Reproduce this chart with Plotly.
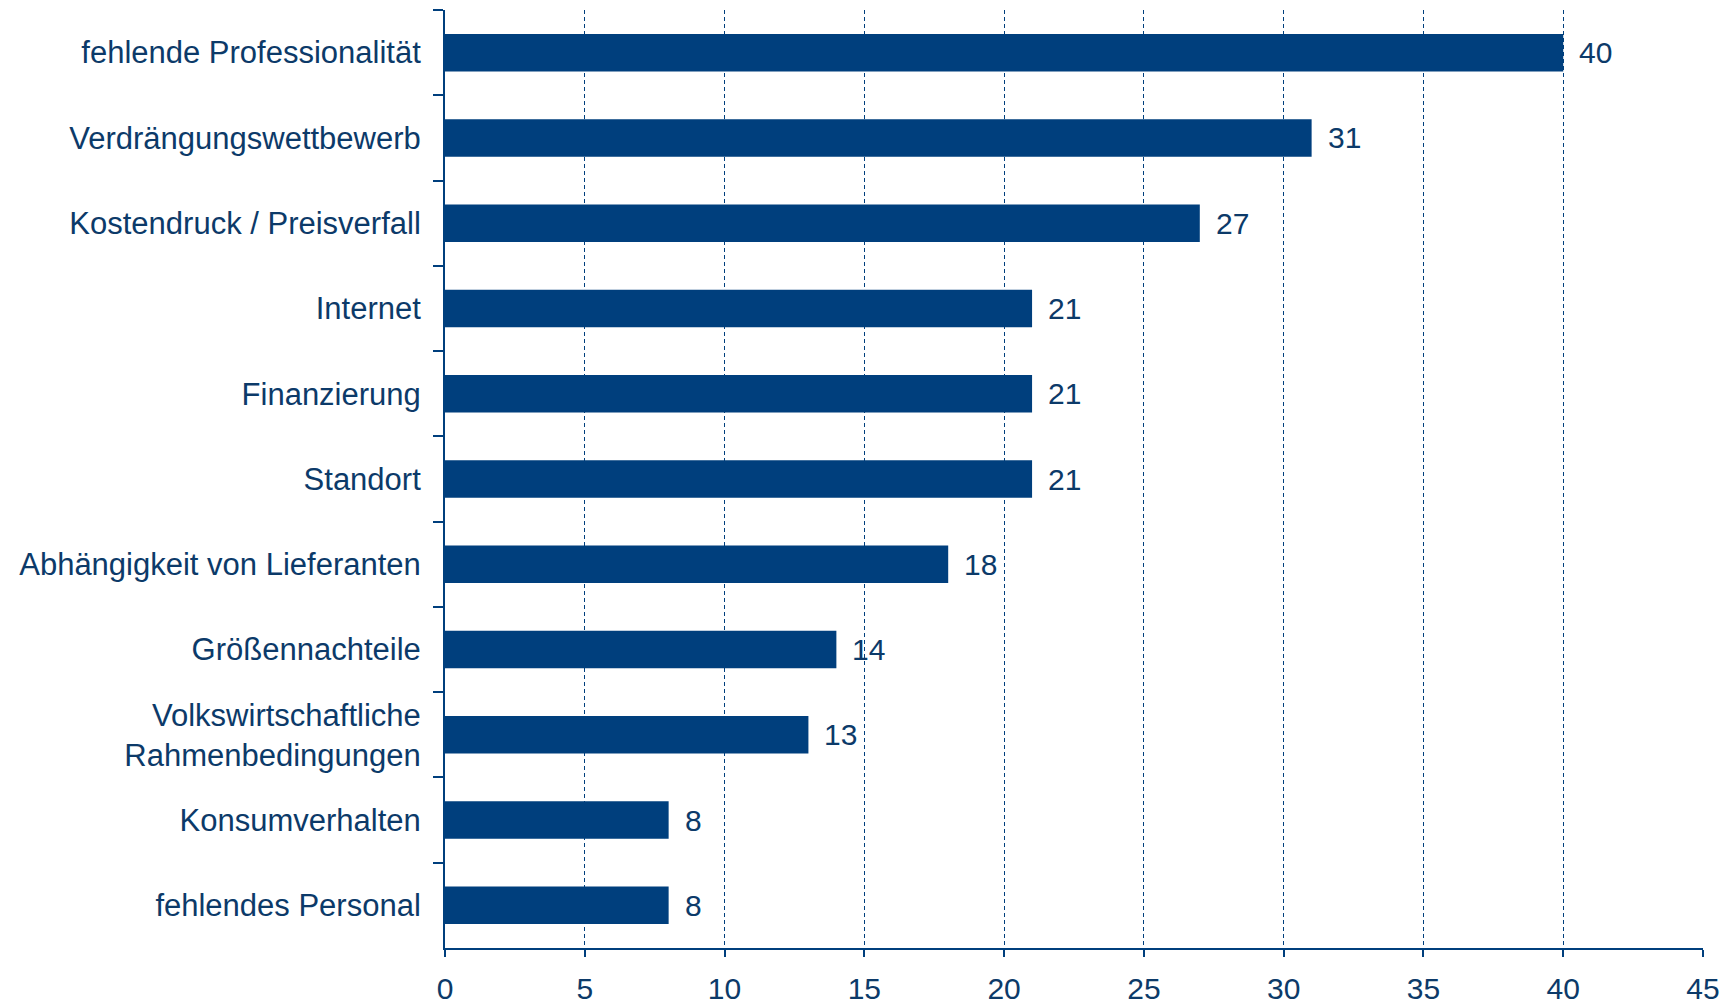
import plotly.graph_objects as go

categories = [
    "fehlende Professionalität",
    "Verdrängungswettbewerb",
    "Kostendruck / Preisverfall",
    "Internet",
    "Finanzierung",
    "Standort",
    "Abhängigkeit von Lieferanten",
    "Größennachteile",
    "Volkswirtschaftliche<br>Rahmenbedingungen",
    "Konsumverhalten",
    "fehlendes Personal",
]
values = [40, 31, 27, 21, 21, 21, 18, 14, 13, 8, 8]
x_ticks = [0, 5, 10, 15, 20, 25, 30, 35, 40, 45]

BAR = "#003f7d"
TXT = "#0c3a69"
FONT = "Liberation Sans, Arial, sans-serif"

# the page body adds an 8px offset, so the figure is sized to fit the window
fig = go.Figure()
fig.add_trace(go.Bar(
    x=values, y=categories, orientation="h",
    marker=dict(color=BAR, line=dict(width=0)),
    hoverinfo="skip",
))

for c, v in zip(categories, values):
    fig.add_annotation(x=v, y=c, text=str(v), showarrow=False,
                       xanchor="left", xshift=14, yshift=0,
                       font=dict(family=FONT, size=30, color=TXT))

fig.update_layout(
    width=1727, height=999,
    margin=dict(l=437, r=32, t=2, b=59, autoexpand=False),
    paper_bgcolor="white", plot_bgcolor="white",
    bargap=0.56,
    showlegend=False,
    font=dict(family=FONT, size=30, color=TXT),
)
fig.update_xaxes(
    range=[0, 45], tickvals=x_ticks, ticktext=[str(t) for t in x_ticks],
    showgrid=True, gridcolor=BAR, griddash="4px,3px", gridwidth=1.2,
    showline=True, linecolor=BAR, linewidth=2,
    ticks="outside", ticklen=7, tickcolor=BAR, tickwidth=1.5,
    ticklabelstandoff=6, automargin=False,
    zeroline=False,
    tickfont=dict(family=FONT, size=30, color=TXT),
)
fig.update_yaxes(
    categoryorder="array", categoryarray=categories, autorange="reversed",
    showline=True, linecolor=BAR, linewidth=2,
    ticks="outside", ticklen=10, tickcolor=BAR, tickwidth=1.5,
    tickson="boundaries",
    ticklabelstandoff=16, automargin=False,
    showgrid=False, zeroline=False,
    tickfont=dict(family=FONT, size=31, color=TXT),
)

fig.write_html("out.html")
